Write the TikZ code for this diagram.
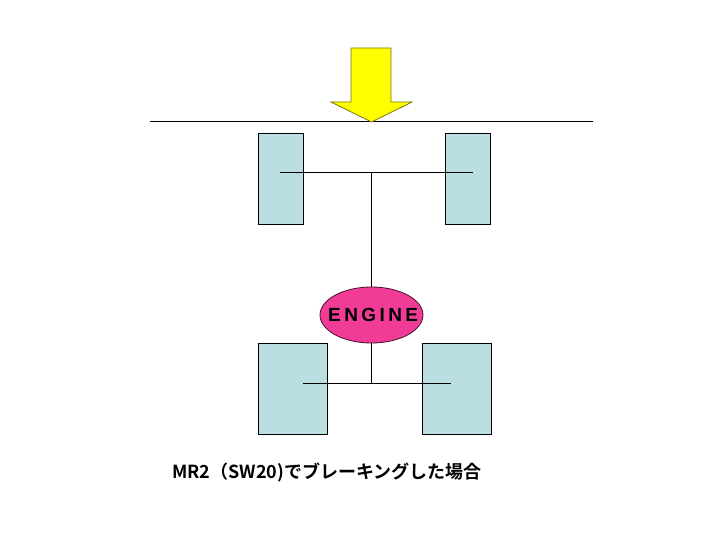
\documentclass[tikz,border=0pt]{standalone}
\usepackage{fontspec}
\setmainfont{Liberation Sans}
\newfontfamily\jpfont{Noto Sans CJK JP}[BoldFont={* Bold}]
\newfontfamily\engfont{Liberation Sans}[LetterSpace=18]
\usetikzlibrary{shapes.geometric}
\definecolor{wheelfill}{RGB}{186,222,226}
\definecolor{enginefill}{RGB}{240,60,150}
\definecolor{arrowfill}{RGB}{255,255,0}
\definecolor{arrowline}{RGB}{120,120,0}
\tikzset{
  wheel/.style={draw=black, fill=wheelfill, line width=0.9pt, inner sep=0pt, minimum height=91},
  engine/.style={ellipse, draw=black!70!enginefill, fill=enginefill, line width=0.8pt, inner sep=0pt, minimum width=103, minimum height=56},
  axle/.style={draw=black, line width=1pt},
}
\begin{document}
\begin{tikzpicture}[x=1pt,y=-1pt]
\useasboundingbox (0,0) rectangle (720,540);
% ground line
\coordinate (gl) at (150,122);
\coordinate (gr) at (593,122);
\draw[line width=1pt] (gl) -- (gr);
% arrow
\draw[fill=arrowfill, draw=arrowline, line width=0.8pt]
  (351,48) -- (391,48) -- (391,102) -- (412,102) -- (371.5,122) -- (331,102) -- (351,102) -- cycle;
% wheels
\node[wheel, minimum width=45] (fl) at (280.5,178.5) {};
\node[wheel, minimum width=45] (fr) at (467.5,178.5) {};
\node[wheel, minimum width=69] (rl) at (292.5,388.5) {};
\node[wheel, minimum width=69] (rr) at (456.5,388.5) {};
% engine
\node[engine] (eng) at (371.5,315) {\makebox[0pt][c]{\engfont\bfseries\fontsize{19}{19}\selectfont ENGINE\hspace{-3.4pt}}};
% axles
\coordinate (fa1) at (280,173);
\coordinate (fa2) at (473,173);
\coordinate (fam) at (371.5,173);
\coordinate (ra1) at (303,383);
\coordinate (ra2) at (451,383);
\coordinate (ram) at (371.5,383);
\draw[axle] (fa1) -- (fa2);
\draw[axle] (fam) -- (eng.north);
\draw[axle] (ra1) -- (ra2);
\draw[axle] (eng.south) -- (ram);
% caption
\node[anchor=west, inner sep=0pt] (cap) at (172,473) {\jpfont\bfseries\fontsize{18}{18}\selectfont MR2（SW20)でブレーキングした場合};
\end{tikzpicture}
\end{document}
